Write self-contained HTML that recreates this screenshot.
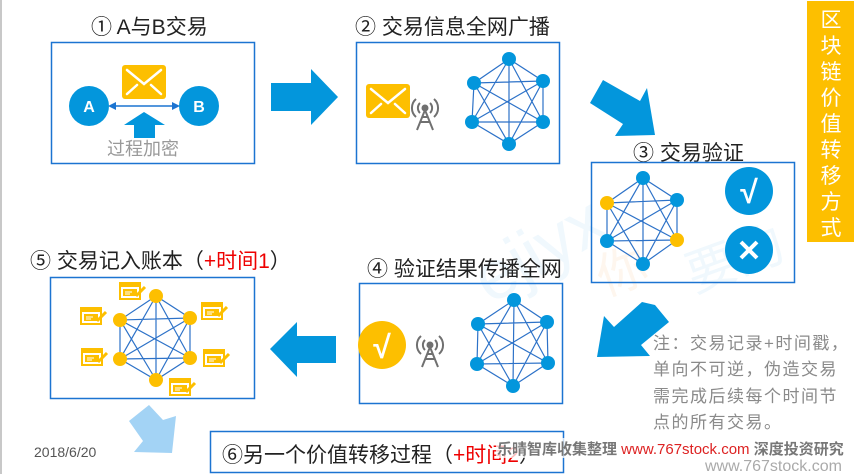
<!DOCTYPE html>
<html><head><meta charset="utf-8"><style>
html,body{margin:0;padding:0;background:#fff;}
svg{display:block;font-family:"Liberation Sans","Noto Sans CJK SC",sans-serif;}
</style></head><body>
<svg width="854" height="474" viewBox="0 0 854 474" xmlns="http://www.w3.org/2000/svg">
<defs>
<g id="env">
<rect x="0" y="0" width="44" height="34" rx="3" fill="#fdbf00"/>
<path d="M5 5 L22 19 L39 5 M5 29 L15 20 M39 29 L29 20" stroke="#fff" stroke-width="2.5" fill="none" stroke-linecap="round"/>
</g>
<g id="ant" stroke="#707070" fill="none" stroke-width="2">
<circle cx="0" cy="0" r="2.5" fill="#707070"/>
<path d="M-5 -5 A7 7 0 0 0 -5 5 M5 -5 A7 7 0 0 1 5 5 M-9 -9 A12 12 0 0 0 -9 9 M9 -9 A12 12 0 0 1 9 9"/>
<path d="M0 2 L-8 22 M0 2 L8 22 M-5 14 L5 14 M-3 9 L3 9"/>
</g>
<g id="doc">
<rect x="0" y="0" width="22" height="18" fill="#fdbf00"/>
<rect x="2" y="5" width="18" height="11" fill="#fff"/>
<rect x="4" y="7" width="14" height="7" fill="#fdbf00"/>
<path d="M6 10 H13 M6 12 H11" stroke="#fff" stroke-width="1"/>
<path d="M17 14 L26 5" stroke="#fdbf00" stroke-width="3"/>
</g>
</defs>
<rect x="0" y="0" width="2" height="474" fill="#c8c8c8"/>

<!-- watermark faint -->
<text x="470" y="230" font-size="70" fill="#f0f8fd" transform="rotate(-30 620 230)">ejiyx</text>
<text x="600" y="290" font-size="50" fill="#fef6ee" transform="rotate(-20 620 280)">你</text>
<text x="690" y="290" font-size="50" fill="#f0f8fd" transform="rotate(-20 700 280)">要的</text>

<!-- Titles -->
<g font-size="21" fill="#222">
<text x="91" y="34">① A与B交易</text>
<text x="355" y="34">② 交易信息全网广播</text>
<text x="633" y="160">③ 交易验证</text>
<text x="367" y="276">④ 验证结果传播全网</text>
<text x="30" y="268">⑤ 交易记入账本（<tspan fill="#e00">+时间1</tspan>）</text>
</g>

<!-- boxes -->
<g fill="none" stroke="#1c74d1" stroke-width="1.5">
<rect x="51.5" y="42.5" width="203" height="121"/>
<rect x="356.5" y="42.5" width="203" height="121"/>
<rect x="591.5" y="162.5" width="203" height="120"/>
<rect x="359.5" y="283.5" width="203" height="120"/>
<rect x="50.5" y="277.5" width="204" height="121"/>
<rect x="210.5" y="431.5" width="353" height="41"/>
</g>

<!-- sidebar -->
<rect x="807" y="1" width="47" height="241" fill="#fdbf00"/>
<g font-size="21" fill="#fff" text-anchor="middle">
<text x="831" y="27">区</text><text x="831" y="53">块</text><text x="831" y="79">链</text>
<text x="831" y="105">价</text><text x="831" y="131">值</text><text x="831" y="157">转</text>
<text x="831" y="183">移</text><text x="831" y="209">方</text><text x="831" y="235">式</text>
</g>

<!-- Box1 -->
<use href="#env" x="122" y="65"/>
<line x1="112" y1="106" x2="176" y2="106" stroke="#1c74d1" stroke-width="1.5"/>
<path d="M108 106 L116 102 L116 110Z M180 106 L172 102 L172 110Z" fill="#1c74d1"/>
<circle cx="89" cy="106" r="20" fill="#0396dc"/>
<circle cx="199" cy="106" r="20" fill="#0396dc"/>
<text x="89" y="112" font-size="16" font-weight="bold" fill="#fff" text-anchor="middle">A</text>
<text x="199" y="112" font-size="16" font-weight="bold" fill="#fff" text-anchor="middle">B</text>
<path d="M124 125 L144 112 L165 125 L155 125 L155 138 L134 138 L134 125Z" fill="#0396dc"/>
<text x="107" y="155" font-size="18" fill="#999">过程加密</text>

<!-- Arrow1 -->
<path d="M271 83 H311 V69 L338 97 L311 125 V111 H271Z" fill="#0396dc"/>

<!-- Box2 -->
<use href="#env" x="366" y="84"/>
<use href="#ant" x="425" y="108"/>
<g stroke="#2d72c8" stroke-width="1.2" fill="none">
<path d="M509 59 L474 83 L472 122 L509 144 L543 122 L543 81Z M509 59 L472 122 M509 59 L509 144 M509 59 L543 122 M474 83 L543 81 M474 83 L543 122 M474 83 L509 144 M472 122 L543 81 M472 122 L543 122 M509 144 L543 81"/>
</g>
<g fill="#0396dc"><circle cx="509" cy="59" r="7"/><circle cx="474" cy="83" r="7"/><circle cx="543" cy="81" r="7"/><circle cx="472" cy="122" r="7"/><circle cx="543" cy="122" r="7"/><circle cx="509" cy="144" r="7"/></g>

<!-- Arrow2 diagonal -->
<path d="M590 103 L603 80 L640 101 L647 88 L655 135 L615 136 L623 124Z" fill="#0396dc"/>

<!-- Box3 -->
<g stroke="#2d72c8" stroke-width="1.2" fill="none">
<path d="M643 178 L607 203 L607 241 L643 264 L677 240 L677 200Z M643 178 L607 241 M643 178 L643 264 M643 178 L677 240 M607 203 L677 200 M607 203 L677 240 M607 203 L643 264 M607 241 L677 200 M607 241 L677 240 M643 264 L677 200"/>
</g>
<g fill="#0396dc"><circle cx="643" cy="178" r="7"/><circle cx="677" cy="200" r="7"/><circle cx="607" cy="241" r="7"/><circle cx="643" cy="264" r="7"/></g>
<g fill="#fdbf00"><circle cx="607" cy="203" r="7"/><circle cx="677" cy="240" r="7"/></g>
<circle cx="749" cy="191" r="24" fill="#0396dc"/>
<text x="749" y="203" font-size="32" font-weight="bold" fill="#fff" text-anchor="middle">√</text>
<circle cx="749" cy="250" r="24" fill="#0396dc"/>
<path d="M741 242 L757 258 M757 242 L741 258" stroke="#fff" stroke-width="4"/>

<!-- Arrow3 diagonal down-left -->
<path d="M655 305 L669 322 L641 345 L650 356 L597 357 L604 316 L614 327 L642 302Z" fill="#0396dc"/>

<!-- Box4 -->
<circle cx="382" cy="345" r="24" fill="#fdbf00"/>
<text x="382" y="358" font-size="32" font-weight="bold" fill="#fff" text-anchor="middle">√</text>
<use href="#ant" x="430" y="345"/>
<g stroke="#2d72c8" stroke-width="1.2" fill="none">
<path d="M514 300 L478 324 L477 364 L513 386 L548 363 L547 322Z M514 300 L477 364 M514 300 L513 386 M514 300 L548 363 M478 324 L547 322 M478 324 L548 363 M478 324 L513 386 M477 364 L547 322 M477 364 L548 363 M513 386 L547 322"/>
</g>
<g fill="#0396dc"><circle cx="514" cy="300" r="7"/><circle cx="478" cy="324" r="7"/><circle cx="547" cy="322" r="7"/><circle cx="477" cy="364" r="7"/><circle cx="548" cy="363" r="7"/><circle cx="513" cy="386" r="7"/></g>

<!-- Arrow4 left -->
<path d="M336 336 H297 V322 L270 349 L297 377 V363 H336Z" fill="#0396dc"/>

<!-- Box5 -->
<g stroke="#2d72c8" stroke-width="1.2" fill="none">
<path d="M156 296 L120 320 L120 359 L156 380 L190 358 L190 318Z M156 296 L120 359 M156 296 L156 380 M156 296 L190 358 M120 320 L190 318 M120 320 L190 358 M120 320 L156 380 M120 359 L190 318 M120 359 L190 358 M156 380 L190 318"/>
</g>
<g fill="#fdbf00"><circle cx="156" cy="296" r="7"/><circle cx="120" cy="320" r="7"/><circle cx="190" cy="318" r="7"/><circle cx="120" cy="359" r="7"/><circle cx="190" cy="358" r="7"/><circle cx="156" cy="380" r="7"/></g>
<use href="#doc" x="119" y="282"/>
<use href="#doc" x="80" y="307"/>
<use href="#doc" x="201" y="302"/>
<use href="#doc" x="81" y="348"/>
<use href="#doc" x="203" y="349"/>
<use href="#doc" x="169" y="378"/>

<!-- light arrow -->
<path d="M129 421 L149 405 L163 420 L176 416 L172 453 L134 452 L143 441Z" fill="#a3d3f5"/>

<text x="34" y="457" font-size="14" fill="#555">2018/6/20</text>

<!-- Note -->
<g font-size="17" fill="#8a8a8a" letter-spacing="1.5">
<text x="653" y="349">注：交易记录+时间戳，</text>
<text x="653" y="375">单向不可逆，伪造交易</text>
<text x="653" y="402">需完成后续每个时间节</text>
<text x="653" y="428">点的所有交易。</text>
</g>

<!-- Box6 -->
<text x="222" y="462" font-size="21" fill="#222">⑥另一个价值转移过程（<tspan fill="#e00">+时间2</tspan>）</text>
<rect x="496" y="438" width="358" height="20" fill="#fff" opacity="0.75"/>
<text x="497" y="454" font-size="15" font-weight="bold" fill="#777">乐晴智库收集整理 <tspan fill="#d22" font-weight="normal">www.767stock.com</tspan> 深度投资研究</text>
<text x="705" y="471" font-size="16" fill="#aaa">www.767stock.com</text>
</svg>
</body></html>
